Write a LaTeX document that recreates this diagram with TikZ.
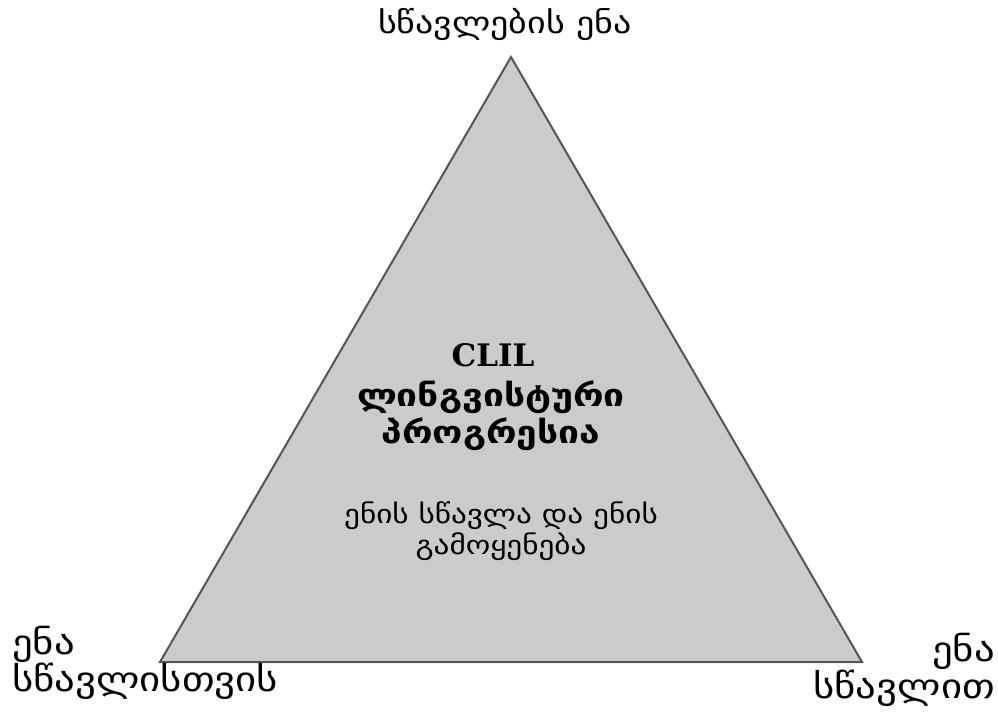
\documentclass[tikz,border=0pt]{standalone}
\usepackage{fontspec}
\setmainfont[FakeStretch=1.2]{DejaVu Sans}
\newfontfamily\clilfont{DejaVu Serif}
\definecolor{trifill}{HTML}{CBCBCB}
\definecolor{tridraw}{HTML}{555555}
\begin{document}
\begin{tikzpicture}[x=1pt,y=-1pt,
  lbl/.style={inner sep=0pt, font=\fontsize{34}{28}\selectfont},
  boldlbl/.style={inner sep=0pt, font=\fontsize{31}{37}\selectfont\bfseries, align=center},
  smalllbl/.style={inner sep=0pt, font=\fontsize{26}{31}\selectfont, align=center}]
\useasboundingbox (0,0) rectangle (998,715);
\coordinate (A) at (511,57);
\coordinate (B) at (160,662);
\coordinate (C) at (862,662);
\filldraw[fill=trifill, draw=tridraw, line width=2pt, line join=miter] (A) -- (B) -- (C) -- cycle;
\node[inner sep=0pt, font=\fontsize{30}{30}\selectfont] (top) at (505,24) {სწავლების ენა};
\node[lbl, anchor=west, align=left] (left) at (12,663) {ენა\\სწავლისთვის};
\node[lbl, anchor=east, align=right] (right) at (995,670) {ენა\\სწავლით};
\node[inner sep=0pt, font=\fontsize{31}{32}\selectfont\clilfont\bfseries] (clil) at (493,355) {CLIL};
\node[boldlbl] (ling) at (491,416) {ლინგვისტური\\პროგრესია};
\node[smalllbl] (use) at (501,531) {ენის სწავლა და ენის\\გამოყენება};
\end{tikzpicture}
\end{document}
